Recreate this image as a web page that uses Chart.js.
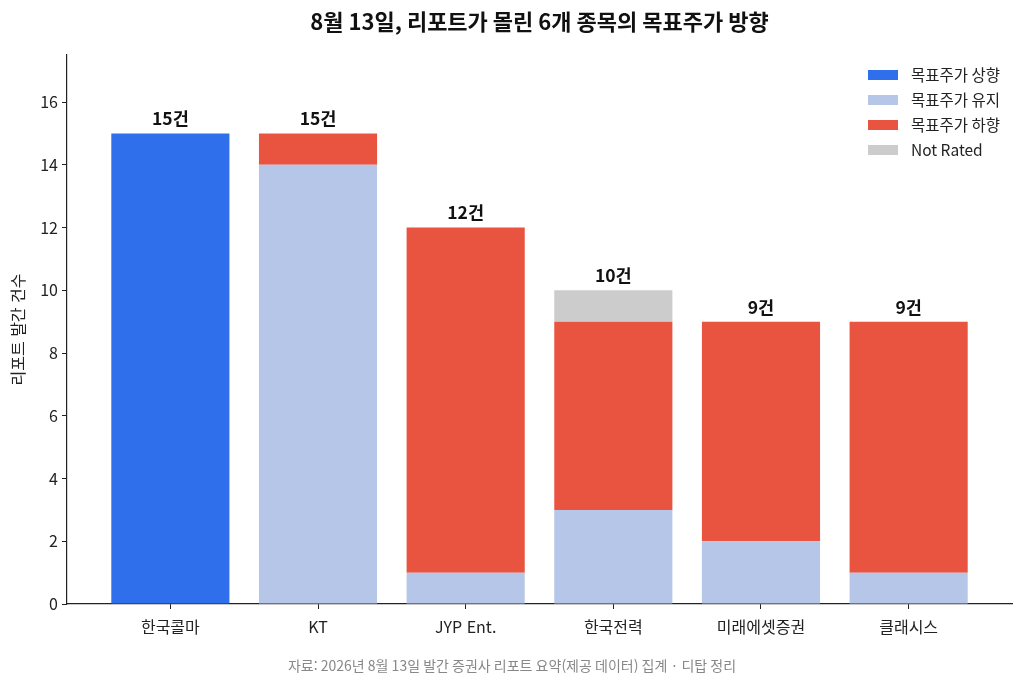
<!DOCTYPE html>
<html lang="ko">
<head>
<meta charset="utf-8">
<script src="https://cdn.jsdelivr.net/npm/chart.js@4/dist/chart.umd.min.js"></script>
<style>
  html, body { margin: 0; padding: 0; background: #fff; }
  #wrap { width: 1024px; height: 687px; }
</style>
</head>
<body>
<div id="wrap"><canvas id="targetChart" width="1024" height="687"></canvas></div>
<script>
// Data
const stocks = ['한국콜마', 'KT', 'JYP Ent.', '한국전력', '미래에셋증권', '클래시스'];
const upCounts = [15, 0, 0, 0, 0, 0];
const holdCounts = [0, 14, 1, 3, 2, 1];
const downCounts = [0, 1, 11, 6, 7, 8];
const notRatedCounts = [0, 0, 0, 1, 0, 0];
const seriesNames = ['목표주가 상향', '목표주가 유지', '목표주가 하향', 'Not Rated'];
const yTicks = [0, 2, 4, 6, 8, 10, 12, 14, 16];

const titleText = '8월 13일, 리포트가 몰린 6개 종목의 목표주가 방향';
const yLabel = '리포트 발간 건수';
const sourceText = '자료: 2026년 8월 13일 발간 증권사 리포트 요약(제공 데이터) 집계 · 디탑 정리';

const FONT = '"Noto Sans CJK KR", "Noto Sans", sans-serif';
const colors = ['#2f6feb', '#b6c6e8', '#e8543f', '#cccccc'];

const seriesData = [upCounts, holdCounts, downCounts, notRatedCounts];
const totals = stocks.map((_, i) => seriesData.reduce((s, arr) => s + arr[i], 0));

// Titles, totals above bars, legend, footer
const decorPlugin = {
  id: 'decor',
  afterDraw(chart) {
    const ctx = chart.ctx;
    const area = chart.chartArea;
    const xs = chart.scales.x, ys = chart.scales.y;
    ctx.save();
    // title
    ctx.fillStyle = '#111';
    ctx.font = 'bold 22px ' + FONT;
    ctx.textAlign = 'center';
    ctx.textBaseline = 'middle';
    ctx.fillText(titleText, (area.left + area.right) / 2, 22);

    // totals
    ctx.font = 'bold 17.5px ' + FONT;
    ctx.textBaseline = 'bottom';
    totals.forEach((t, i) => {
      ctx.fillText(t + '건', xs.getPixelForValue(i), ys.getPixelForValue(t) - 6);
    });

    // y axis title
    ctx.save();
    ctx.translate(18, (area.top + area.bottom) / 2);
    ctx.rotate(-Math.PI / 2);
    ctx.font = '16px ' + FONT;
    ctx.fillStyle = '#222';
    ctx.textBaseline = 'middle';
    ctx.fillText(yLabel, 0, 0);
    ctx.restore();

    // legend
    ctx.font = '15.5px ' + FONT;
    ctx.textAlign = 'left';
    ctx.textBaseline = 'middle';
    seriesNames.forEach((name, k) => {
      const y = 75 + k * 25;
      ctx.fillStyle = colors[k];
      ctx.fillRect(868, y - 5, 30, 10);
      ctx.fillStyle = '#222';
      ctx.fillText(name, 911, y);
    });

    // footer
    ctx.font = '14px ' + FONT;
    ctx.fillStyle = '#888';
    ctx.textAlign = 'center';
    ctx.fillText(sourceText, 512, 666);
    ctx.restore();
  }
};

const datasets = seriesNames.map((name, k) => ({
  label: name,
  data: seriesData[k].map((v, i) => ({ x: i, y: v })),
  backgroundColor: colors[k],
  borderWidth: 0,
  barPercentage: 0.8,
  categoryPercentage: 1.0,
  stack: 'all'
}));

new Chart(document.getElementById('targetChart'), {
  type: 'bar',
  data: { datasets },
  options: {
    responsive: false,
    animation: false,
    layout: { padding: { top: 55, right: 12, bottom: 0, left: 0 } },
    plugins: {
      legend: { display: false },
      title: { display: false },
      tooltip: { enabled: false }
    },
    scales: {
      x: {
        type: 'linear',
        stacked: true,
        offset: false,
        min: -0.7,
        max: 5.7,
        afterBuildTicks: s => { s.ticks = stocks.map((_, i) => ({ value: i })); },
        afterFit: s => { s.height = 83; },
        grid: { offset: false, drawOnChartArea: false, drawTicks: true, tickLength: 5, color: '#222' },
        border: { display: true, color: '#222', width: 1.2 },
        ticks: {
          color: '#222',
          font: { family: FONT, size: 16 },
          padding: 8,
          autoSkip: false,
          maxRotation: 0,
          callback: v => stocks[v]
        }
      },
      y: {
        stacked: true,
        min: 0,
        max: 17.5,
        afterBuildTicks: s => { s.ticks = yTicks.map(v => ({ value: v })); },
        afterFit: s => { s.width = 67; },
        grid: { drawOnChartArea: false, drawTicks: true, tickLength: 5, color: '#222' },
        border: { display: true, color: '#222', width: 1.2 },
        ticks: {
          color: '#222',
          font: { family: FONT, size: 16 },
          padding: 4
        }
      }
    }
  },
  plugins: [decorPlugin]
});
</script>
</body>
</html>
